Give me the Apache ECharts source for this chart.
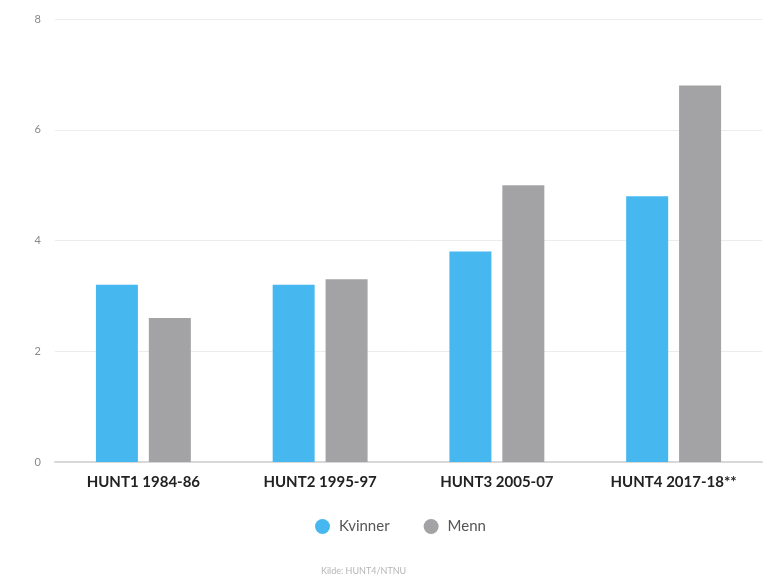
<!DOCTYPE html>
<html><head><meta charset="utf-8">
<script src="https://cdn.jsdelivr.net/npm/echarts@6/dist/echarts.min.js"></script>
<style>html,body{margin:0;padding:0;background:#fff}#c{width:775px;height:576px}</style>
</head><body><div id="c"></div>
<script>
const categories = ['HUNT1 1984-86', 'HUNT2 1995-97', 'HUNT3 2005-07', 'HUNT4 2017-18**'];
const kvinner = [3.2, 3.2, 3.8, 4.8];
const menn = [2.6, 3.3, 5.0, 6.8];
const yTicks = [0, 2, 4, 6, 8];

const chart = echarts.init(document.getElementById('c'), null, {renderer: 'canvas'});
chart.setOption({
  backgroundColor: '#ffffff',
  animation: false,
  title: {
    text: 'Kilde: HUNT4/NTNU',
    left: 316, top: 562,
    textStyle: {fontFamily: 'Lato', fontSize: 9, fontWeight: 'normal', color: '#b5b5b5'}
  },
  legend: {
    data: ['Kvinner', 'Menn'],
    top: 514, left: 310,
    icon: 'circle', itemWidth: 15, itemHeight: 15, itemGap: 34,
    textStyle: {fontFamily: 'Lato', fontSize: 15, color: '#555', padding: [0, 0, 0, 4]}
  },
  grid: {left: 55, right: 13, top: 19, bottom: 114, containLabel: false},
  xAxis: {
    type: 'category', data: categories,
    axisLine: {lineStyle: {color: '#d8d8d8', width: 2}},
    axisTick: {show: false},
    axisLabel: {fontFamily: 'Lato', fontWeight: 'bold', fontSize: 15, color: '#222', margin: 13}
  },
  yAxis: {
    type: 'value', min: yTicks[0], max: yTicks[yTicks.length - 1], interval: 2,
    axisLine: {show: false}, axisTick: {show: false},
    axisLabel: {fontFamily: 'Lato', fontSize: 11, color: '#888', margin: 14},
    splitLine: {lineStyle: {color: '#ececec', width: 1}}
  },
  series: [
    {name: 'Kvinner', type: 'bar', data: kvinner, barWidth: 42, barGap: '26%',
     itemStyle: {color: '#47b8ef'}},
    {name: 'Menn', type: 'bar', data: menn, barWidth: 42,
     itemStyle: {color: '#a3a3a5'}}
  ]
});
</script></body></html>
